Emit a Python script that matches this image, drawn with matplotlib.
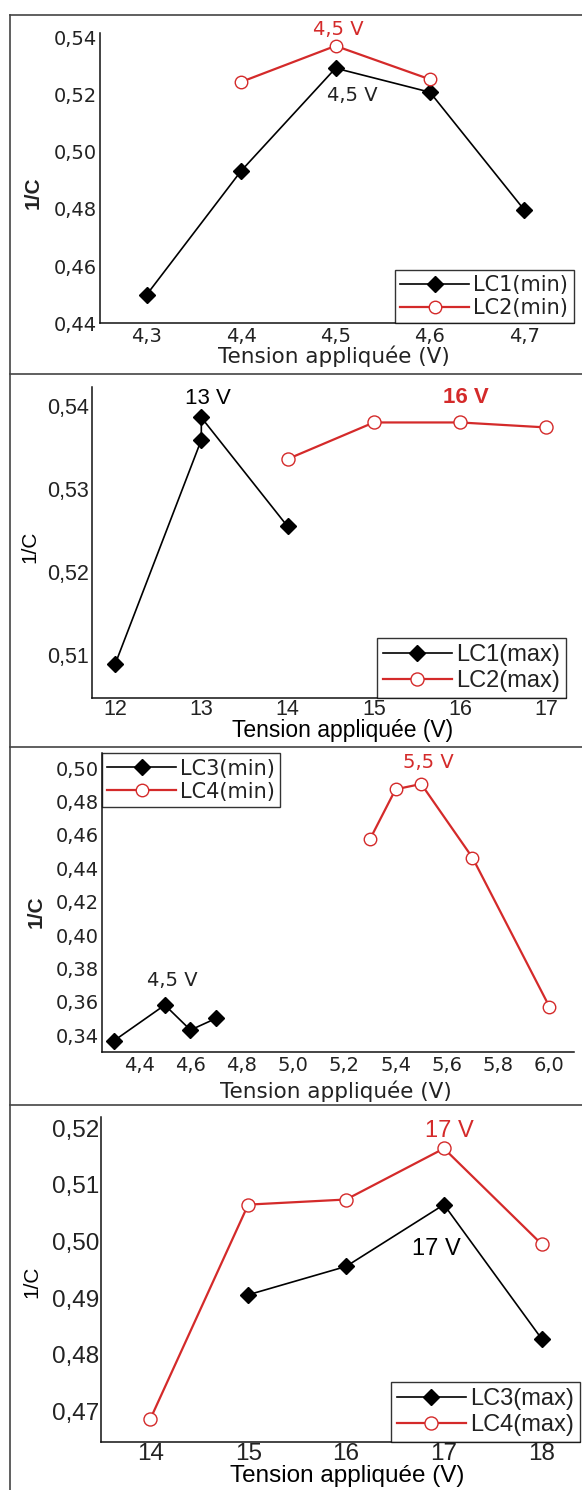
# 1/C versus applied voltage for the LC cells (four stacked panels)

# Imports
import matplotlib
matplotlib.use("Agg")
import matplotlib.pyplot as plt
from matplotlib.lines import Line2D

# Panel 1 : LC1(min) / LC2(min)
p1XLC1 = [4.3, 4.4, 4.5, 4.6, 4.7]
p1YLC1 = [0.4500, 0.4933, 0.5292, 0.5208, 0.4796]
p1XLC2 = [4.4, 4.5, 4.6]
p1YLC2 = [0.5244, 0.5370, 0.5253]
p1XTicks = [4.3, 4.4, 4.5, 4.6, 4.7]
p1XLabels = ["4,3", "4,4", "4,5", "4,6", "4,7"]
p1YTicks = [0.44, 0.46, 0.48, 0.50, 0.52, 0.54]
p1YLabels = ["0,44", "0,46", "0,48", "0,50", "0,52", "0,54"]

# Panel 2 : LC1(max) / LC2(max)
p2XLC1 = [12, 13, 13, 14]
p2YLC1 = [0.5089, 0.5359, 0.5386, 0.5255]
p2XLC2 = [14, 15, 16, 17]
p2YLC2 = [0.5336, 0.5380, 0.5380, 0.5374]
p2XTicks = [12, 13, 14, 15, 16, 17]
p2XLabels = ["12", "13", "14", "15", "16", "17"]
p2YTicks = [0.51, 0.52, 0.53, 0.54]
p2YLabels = ["0,51", "0,52", "0,53", "0,54"]

# Panel 3 : LC3(min) / LC4(min)
p3XLC3 = [4.3, 4.5, 4.6, 4.7]
p3YLC3 = [0.3364, 0.3580, 0.3430, 0.3500]
p3XLC4 = [5.3, 5.4, 5.5, 5.7, 6.0]
p3YLC4 = [0.4574, 0.4874, 0.4906, 0.4464, 0.3570]
p3XTicks = [4.4, 4.6, 4.8, 5.0, 5.2, 5.4, 5.6, 5.8, 6.0]
p3XLabels = ["4,4", "4,6", "4,8", "5,0", "5,2", "5,4", "5,6", "5,8", "6,0"]
p3YTicks = [0.34, 0.36, 0.38, 0.40, 0.42, 0.44, 0.46, 0.48, 0.50]
p3YLabels = ["0,34", "0,36", "0,38", "0,40", "0,42", "0,44", "0,46", "0,48", "0,50"]

# Panel 4 : LC3(max) / LC4(max)
p4XLC3 = [15, 16, 17, 18]
p4YLC3 = [0.4906, 0.4956, 0.5065, 0.4828]
p4XLC4 = [14, 15, 16, 17, 18]
p4YLC4 = [0.4687, 0.5065, 0.5074, 0.5164, 0.4995]
p4XTicks = [14, 15, 16, 17, 18]
p4XLabels = ["14", "15", "16", "17", "18"]
p4YTicks = [0.47, 0.48, 0.49, 0.50, 0.51, 0.52]
p4YLabels = ["0,47", "0,48", "0,49", "0,50", "0,51", "0,52"]

# Figure geometry in pixels
W, H = 582, 1490
RED = "#d42a2a"
TXT = "#222222"
THIN = "DejaVu Sans"
ARIAL = "Liberation Sans"

fig = plt.figure(figsize=(W / 100, H / 100), dpi=100)


def addAxes(left, right, top, bottom):
    # pixel box -> figure fraction
    return fig.add_axes([left / W, 1 - bottom / H, (right - left) / W, (bottom - top) / H])


def styleAxes(ax, xlim, ylim, xt, xl, yt, yl, font, size, xpad, ypad):
    ax.set_xlim(xlim)
    ax.set_ylim(ylim)
    ax.set_xticks(xt, xl)
    ax.set_yticks(yt, yl)
    for side in ["top", "right"]:
        ax.spines[side].set_visible(False)
    for side in ["left", "bottom"]:
        ax.spines[side].set_linewidth(1.1)
        ax.spines[side].set_color("#111111")
    ax.tick_params(length=0, labelsize=size, colors=TXT)
    ax.tick_params(axis="x", pad=xpad)
    ax.tick_params(axis="y", pad=ypad)
    for lab in ax.get_xticklabels() + ax.get_yticklabels():
        lab.set_family(font)


def plotPair(ax, xb, yb, xr, yr, labB, labR, dms, cms):
    ax.plot(xb, yb, color="black", lw=1.2, marker="D", ms=dms, mfc="black", mec="black", label=labB)
    ax.plot(xr, yr, color=RED, lw=1.6, marker="o", ms=cms, mfc="white", mec=RED, mew=1.0, label=labR)


def addLegend(ax, loc, font, size, hlen):
    leg = ax.legend(loc=loc, borderaxespad=0, frameon=True, fancybox=False, shadow=False,
                    handlelength=hlen, handletextpad=0.2, labelspacing=0.15, borderpad=0.25,
                    prop={"family": font, "size": size})
    leg.get_frame().set_edgecolor("black")
    leg.get_frame().set_linewidth(1.0)
    for t in leg.get_texts():
        t.set_color(TXT)
    return leg


# Panel 1
ax1 = addAxes(99.5, 573.5, 33.3, 323.3)
plotPair(ax1, p1XLC1, p1YLC1, p1XLC2, p1YLC2, "LC1(min)", "LC2(min)", 8.5, 9)
styleAxes(ax1, (4.25, 4.752), (0.44, 0.5414), p1XTicks, p1XLabels, p1YTicks, p1YLabels, THIN, 14, 3, 2)
addLegend(ax1, "lower right", THIN, 15, 3.3)
ax1.annotate("4,5 V", (4.5, 0.5370), xytext=(2, 11.5), textcoords="offset points", ha="center", va="center",
             color=RED, fontsize=14, family=THIN, annotation_clip=False)
ax1.annotate("4,5 V", (4.5, 0.5292), xytext=(12, -20), textcoords="offset points", ha="center", va="center",
             color=TXT, fontsize=14, family=THIN)
fig.text(33 / W, 1 - 193 / H, "1/C", rotation=90, ha="center", va="center", fontsize=15,
         fontweight="bold", family=ARIAL, color=TXT)
fig.text(334 / W, 1 - 356 / H, "Tension appliquée (V)", ha="center", va="center", fontsize=15.5,
         family=THIN, color=TXT)

# Panel 2
ax2 = addAxes(92, 566, 386.7, 697.7)
plotPair(ax2, p2XLC1, p2YLC1, p2XLC2, p2YLC2, "LC1(max)", "LC2(max)", 7.8, 9.4)
styleAxes(ax2, (11.733, 17.227), (0.5049, 0.5423), p2XTicks, p2XLabels, p2YTicks, p2YLabels, ARIAL, 15.5, 1, 2)
addLegend(ax2, "lower right", ARIAL, 17, 2.9)
ax2.annotate("13 V", (13, 0.5386), xytext=(4.8, 13.4), textcoords="offset points", ha="center", va="center",
             color="black", fontsize=16, family=ARIAL)
ax2.annotate("16 V", (16, 0.5380), xytext=(4.3, 17.7), textcoords="offset points", ha="center", va="center",
             color=RED, fontsize=16, fontweight="bold", family=ARIAL)
fig.text(30 / W, 1 - 547 / H, "1/C", rotation=90, ha="center", va="center", fontsize=15,
         family=ARIAL, color="black")
fig.text(343 / W, 1 - 731 / H, "Tension appliquée (V)", ha="center", va="center", fontsize=16.5,
         family=ARIAL, color="black")

# Panel 3
ax3 = addAxes(102, 573.5, 753.3, 1051.7)
plotPair(ax3, p3XLC3, p3YLC3, p3XLC4, p3YLC4, "LC3(min)", "LC4(min)", 8.5, 9)
styleAxes(ax3, (4.255, 6.094), (0.33, 0.509), p3XTicks, p3XLabels, p3YTicks, p3YLabels, THIN, 14, 3, 2)
addLegend(ax3, "upper left", THIN, 15, 3.3)
ax3.annotate("4,5 V", (4.5, 0.3580), xytext=(5.6, 17.5), textcoords="offset points", ha="center", va="center",
             color=TXT, fontsize=14, family=THIN)
ax3.annotate("5,5 V", (5.5, 0.4906), xytext=(5.4, 15.5), textcoords="offset points", ha="center", va="center",
             color=RED, fontsize=14, family=THIN)
fig.text(36 / W, 1 - 911.7 / H, "1/C", rotation=90, ha="center", va="center", fontsize=15,
         fontweight="bold", family=ARIAL, color=TXT)
fig.text(336 / W, 1 - 1091.7 / H, "Tension appliquée (V)", ha="center", va="center", fontsize=15.5,
         family=THIN, color=TXT)

# Panel 4
ax4 = addAxes(101, 580, 1116.7, 1441.7)
plotPair(ax4, p4XLC3, p4YLC3, p4XLC4, p4YLC4, "LC3(max)", "LC4(max)", 8.5, 9.4)
styleAxes(ax4, (13.496, 18.39), (0.4647, 0.522), p4XTicks, p4XLabels, p4YTicks, p4YLabels, ARIAL, 17.5, 1, 1)
addLegend(ax4, "lower right", ARIAL, 17, 2.9)
ax4.annotate("17 V", (17, 0.5164), xytext=(3.6, 12.5), textcoords="offset points", ha="center", va="center",
             color=RED, fontsize=17, family=ARIAL)
ax4.annotate("17 V", (17, 0.5065), xytext=(-5.8, -32), textcoords="offset points", ha="center", va="center",
             color="black", fontsize=17, family=ARIAL)
fig.text(31.5 / W, 1 - 1281.7 / H, "1/C", rotation=90, ha="center", va="center", fontsize=15,
         family=ARIAL, color="black")
fig.text(347 / W, 1 - 1476 / H, "Tension appliquée (V)", ha="center", va="center", fontsize=17.5,
         family=ARIAL, color="black")

# Panel frame lines
borderColor = "#444444"
fig.add_artist(Line2D([9.5 / W, 9.5 / W], [0, 1 - 15 / H], color=borderColor, lw=1.2))
fig.add_artist(Line2D([9.5 / W, 1], [1 - 15 / H, 1 - 15 / H], color=borderColor, lw=1.2))
for yPix in [374, 747, 1105]:
    fig.add_artist(Line2D([9.5 / W, 1], [1 - yPix / H, 1 - yPix / H], color=borderColor, lw=1.2))

fig.savefig("out.png", dpi=100)
